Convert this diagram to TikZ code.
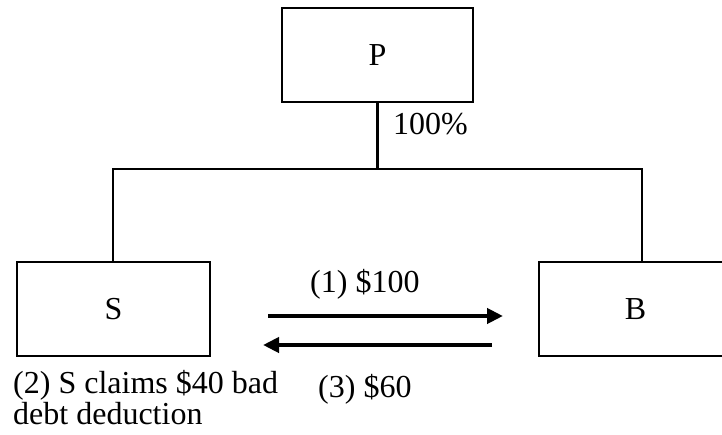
\documentclass[tikz,border=0pt]{standalone}
\usepackage{fontspec}
\setmainfont{Liberation Serif}
\usetikzlibrary{arrows.meta}
\begin{document}
\begin{tikzpicture}[x=1pt,y=1pt,
  entity/.style={draw,line width=2.5pt,minimum width=193pt,minimum height=94pt,inner sep=0pt,
    font=\fontsize{32}{31}\selectfont},
  link/.style={line width=2.5pt},
  flow/.style={line width=4pt,-{Triangle[length=16pt,width=15pt]}},
  lbl/.style={inner sep=0pt,anchor=base west,font=\fontsize{32}{31}\selectfont,align=left}]
\clip (0,0) rectangle (722,434);
\fill[white] (0,0) rectangle (722,434);

% entities
\node[entity,minimum width=191pt] (P) at (377.5,379) {P};
\node[entity] (S) at (113.5,125) {S};
\node[entity] (B) at (635.5,125) {B};

% ownership bus
\coordinate (busL) at (113,265);
\coordinate (busR) at (642,265);
\draw[link] (P.south) -- (P.south |- busL);
\draw[link] (S.north -| busL) -- (busL) -- (busR) -- (busR |- B.north);
\node[lbl] (own) at (393,299) {100\%};

% transactions
\coordinate (f1s) at (268,118);
\coordinate (f1e) at (503,118);
\coordinate (f3s) at (492,89);
\coordinate (f3e) at (263,89);
\draw[flow] (f1s) -- (f1e);
\draw[flow] (f3s) -- (f3e);
\node[lbl] (t1) at (310,142) {(1) \$100};
\node[lbl] (t3) at (318,37) {(3) \$60};
\node[lbl,anchor=north west] (t2) at (13,64) {(2) S claims \$40 bad\\debt deduction};
\end{tikzpicture}
\end{document}
